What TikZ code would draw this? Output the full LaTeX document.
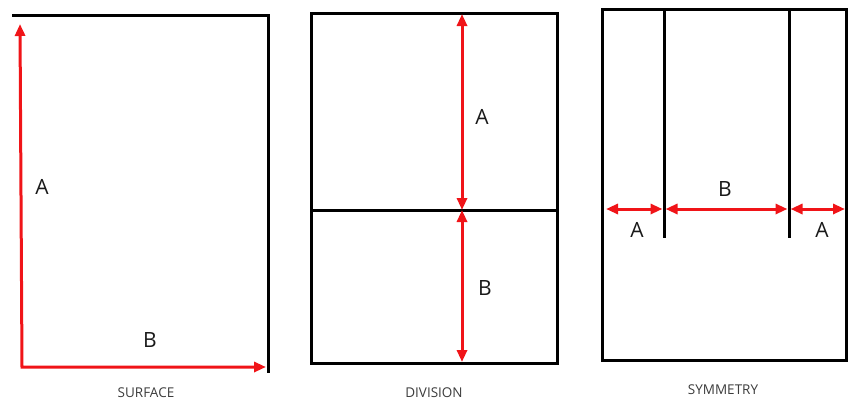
\documentclass[tikz,border=0pt]{standalone}
\usepackage{fontspec}
\setmainfont{Open Sans}
\usetikzlibrary{arrows.meta, positioning}
\definecolor{dimred}{RGB}{240, 20, 24}
\definecolor{capgray}{RGB}{60, 60, 60}

\begin{document}
\begin{tikzpicture}[
  x=1pt, y=-1pt,
  frame/.style={line width=3pt, draw=black},
  dimarr/.style={{Triangle[length=12pt,width=10pt]}-{Triangle[length=12pt,width=10pt]}, line width=3pt, draw=dimred},
  lbl/.style={font=\fontsize{21}{21}\selectfont, text=black!90},
  caption/.style={font=\fontsize{13.5}{13.5}\selectfont, text=capgray}
]
  \useasboundingbox (0,0) rectangle (848,402);

  % surface
  \coordinate (s-top) at (20,24);
  \coordinate (s-corner) at (22,367);
  \coordinate (s-right) at (266,367);
  \draw[frame] (12,15) -- (268,15) -- (268,373);
  \draw[dimarr, line join=miter] (s-top) -- (s-corner) -- (s-right);
  \node[lbl] (s-a) at (42,187) {A};
  \node[lbl] (s-b) at (150,340) {B};
  \node[caption] (s-cap) at (146,393) {SURFACE};

  % division
  \coordinate (d-top) at (462,14);
  \coordinate (d-mid) at (462,210);
  \coordinate (d-bot) at (462,362);
  \draw[frame] (311,13) rectangle (557,363);
  \draw[frame] (311,210) -- (557,210);
  \draw[dimarr] (d-top) -- (d-mid);
  \draw[dimarr] (d-mid) -- (d-bot);
  \node[lbl] (d-a) at (482,117) {A};
  \node[lbl] (d-b) at (485,288) {B};
  \node[caption] (d-cap) at (434,393) {DIVISION};

  % symmetry
  \coordinate (y-left) at (606,209);
  \coordinate (y-l1) at (662.5,209);
  \coordinate (y-l2) at (665.5,209);
  \coordinate (y-r1) at (787.5,209);
  \coordinate (y-r2) at (790.5,209);
  \coordinate (y-right) at (845,209);
  \draw[frame] (602,9) rectangle (846,360);
  \draw[frame] (664,9) -- (664,238);
  \draw[frame] (789,9) -- (789,238);
  \draw[dimarr] (y-left) -- (y-l1);
  \draw[dimarr] (y-l2) -- (y-r1);
  \draw[dimarr] (y-r2) -- (y-right);
  \node[lbl] (y-a1) at (637,230) {A};
  \node[lbl] (y-b) at (725,189) {B};
  \node[lbl] (y-a2) at (822,230) {A};
  \node[caption] (y-cap) at (723,390) {SYMMETRY};
\end{tikzpicture}
\end{document}
